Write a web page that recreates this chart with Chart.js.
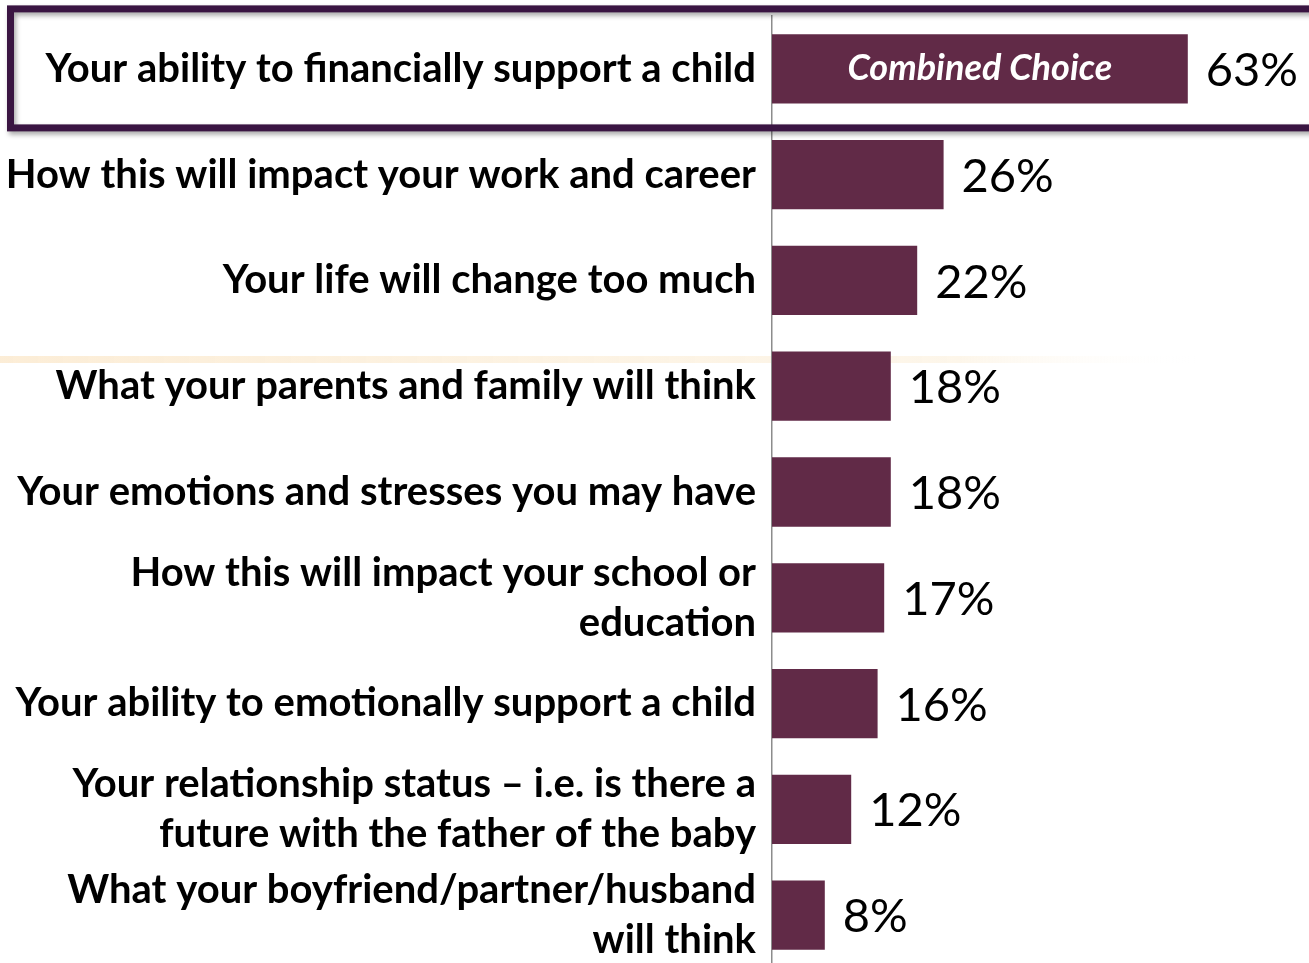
<!DOCTYPE html>
<html>
<head>
<meta charset="utf-8">
<script src="https://cdn.jsdelivr.net/npm/chart.js@4"></script>
<style>
  html, body { margin: 0; padding: 0; background: #fff; overflow: hidden; }
  #wrap { position: relative; width: 1309px; height: 968px; }
</style>
</head>
<body>
<div id="wrap"><canvas id="grafico"></canvas></div>
<script>
const categorias = [
  'Your ability to financially support a child',
  'How this will impact your work and career',
  'Your life will change too much',
  'What your parents and family will think',
  'Your emotions and stresses you may have',
  ['How this will impact your school or', 'education'],
  'Your ability to emotionally support a child',
  ['Your relationship status \u2013 i.e. is there a', 'future with the father of the baby'],
  ['What your boyfriend/partner/husband', 'will think']
];
const valores = [63, 26, 22, 18, 18, 17, 16, 12, 8];
const destaque = 'Combined Choice';

const corBarra = '#612a47';
const corMoldura = '#3a1542';

// linha clara de fundo + moldura da primeira linha
const decoracao = {
  id: 'decoracao',
  beforeDraw(chart) {
    const ctx = chart.ctx;
    ctx.save();
    const g = ctx.createLinearGradient(0, 0, 1200, 0);
    g.addColorStop(0, 'rgba(248,215,165,0.45)');
    g.addColorStop(0.8, 'rgba(248,225,185,0.3)');
    g.addColorStop(1, 'rgba(255,255,255,0)');
    ctx.fillStyle = g;
    ctx.fillRect(0, 356, 1200, 7);
    ctx.restore();
  },
  afterDatasetsDraw(chart) {
    const ctx = chart.ctx;
    const y = chart.scales.y;
    const c = y.getPixelForValue(0);
    ctx.save();
    ctx.shadowColor = 'rgba(0,0,0,0.35)';
    ctx.shadowBlur = 5;
    ctx.shadowOffsetX = 2;
    ctx.shadowOffsetY = 3;
    ctx.strokeStyle = corMoldura;
    ctx.lineWidth = 7;
    ctx.strokeRect(10.5, c - 60, 1320, 119);
    ctx.restore();
  }
};

// rótulos de valor e texto dentro da primeira barra
const rotulos = {
  id: 'rotulos',
  afterDatasetsDraw(chart) {
    const ctx = chart.ctx;
    const meta = chart.getDatasetMeta(0);
    ctx.save();
    ctx.textBaseline = 'middle';
    meta.data.forEach((bar, i) => {
      ctx.fillStyle = '#000';
      ctx.textAlign = 'left';
      ctx.font = '47px Lato';
      ctx.fillText(valores[i] + '%', bar.x + 18, bar.y + 2);
    });
    const b = meta.data[0];
    ctx.fillStyle = '#fff';
    ctx.textAlign = 'center';
    ctx.font = 'italic bold 36px Lato';
    ctx.fillText(destaque, (b.base + b.x) / 2, b.y);
    ctx.restore();
  }
};

new Chart(document.getElementById('grafico'), {
  type: 'bar',
  data: {
    labels: categorias,
    datasets: [{
      data: valores,
      backgroundColor: corBarra,
      borderWidth: 0,
      categoryPercentage: 1,
      barPercentage: 0.655
    }]
  },
  options: {
    indexAxis: 'y',
    responsive: true,
    maintainAspectRatio: false,
    animation: false,
    layout: { padding: { top: 16, right: 9, left: 0, bottom: 0 } },
    plugins: {
      legend: { display: false },
      tooltip: { enabled: false }
    },
    scales: {
      x: {
        display: false,
        min: 0,
        max: 80
      },
      y: {
        afterFit(scale) {
          scale.width = 772;
          scale.paddingTop = 0;
          scale.paddingBottom = 0;
        },
        grid: { display: false, drawTicks: false },
        border: { display: true, color: '#8c8c8c', width: 1.5 },
        ticks: {
          color: '#000',
          padding: 16,
          font: { family: 'Lato', weight: 'bold', size: 40, lineHeight: 1.25 }
        }
      }
    }
  },
  plugins: [decoracao, rotulos]
});
</script>
</body>
</html>
